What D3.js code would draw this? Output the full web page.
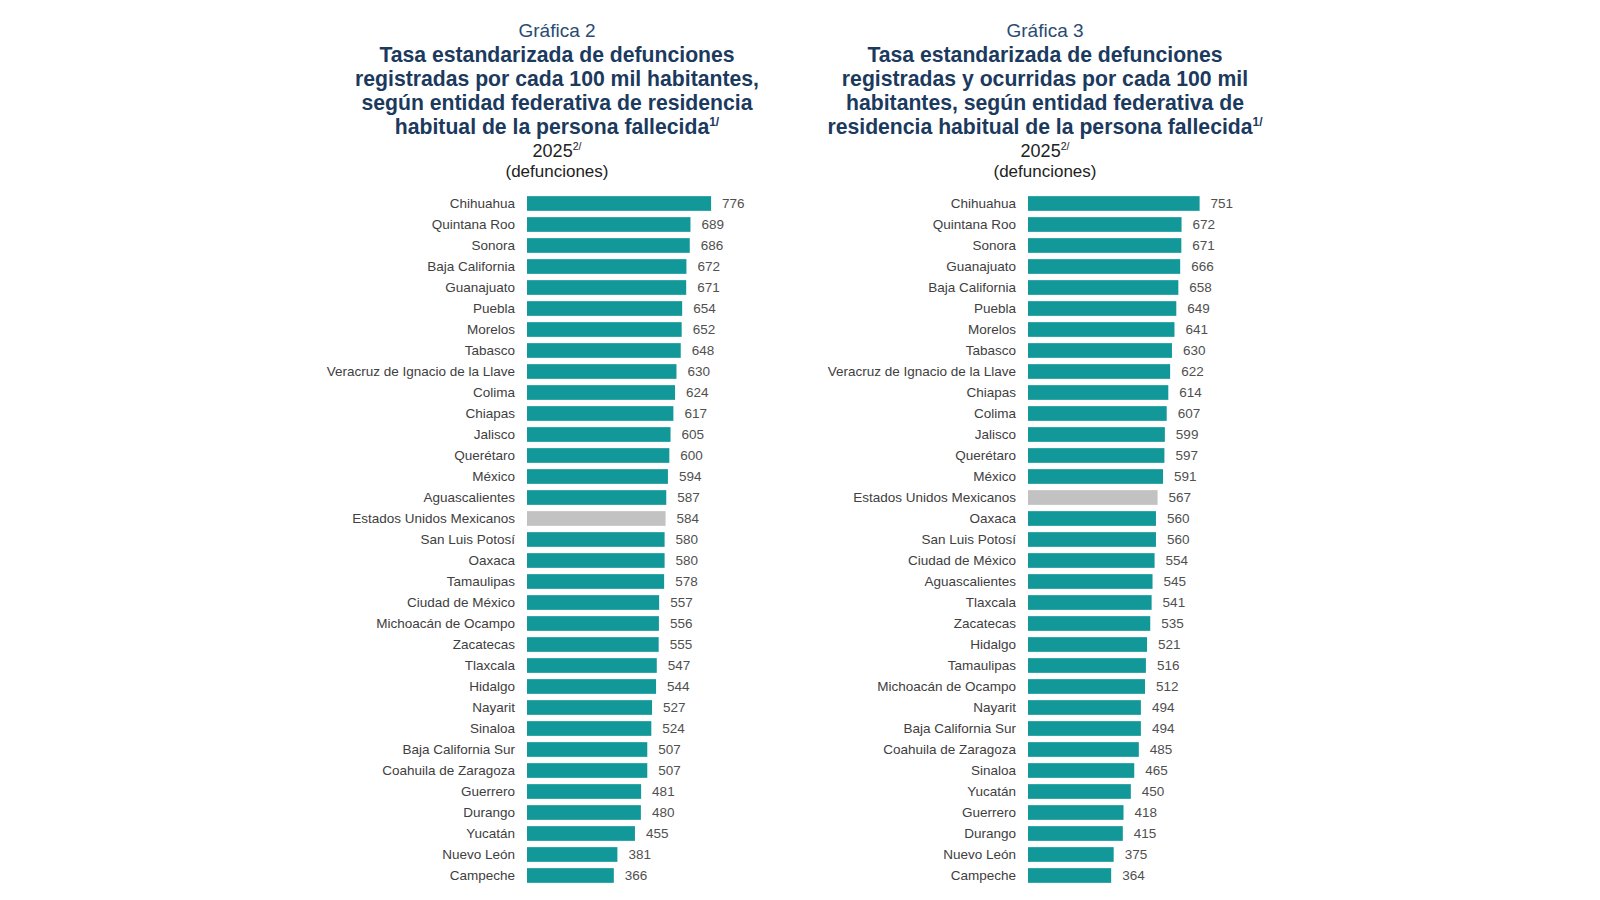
<!DOCTYPE html>
<html><head><meta charset="utf-8">
<script src="https://cdn.jsdelivr.net/npm/d3@7"></script>
<style>body{margin:0;background:#fff}svg{display:block}</style>
</head><body>
<svg id="c" width="1600" height="900"></svg>
<script>
const cats2 = ["Chihuahua","Quintana Roo","Sonora","Baja California","Guanajuato","Puebla","Morelos","Tabasco","Veracruz de Ignacio de la Llave","Colima","Chiapas","Jalisco","Querétaro","México","Aguascalientes","Estados Unidos Mexicanos","San Luis Potosí","Oaxaca","Tamaulipas","Ciudad de México","Michoacán de Ocampo","Zacatecas","Tlaxcala","Hidalgo","Nayarit","Sinaloa","Baja California Sur","Coahuila de Zaragoza","Guerrero","Durango","Yucatán","Nuevo León","Campeche"];
const vals2 = [776,689,686,672,671,654,652,648,630,624,617,605,600,594,587,584,580,580,578,557,556,555,547,544,527,524,507,507,481,480,455,381,366];
const cats3 = ["Chihuahua","Quintana Roo","Sonora","Guanajuato","Baja California","Puebla","Morelos","Tabasco","Veracruz de Ignacio de la Llave","Chiapas","Colima","Jalisco","Querétaro","México","Estados Unidos Mexicanos","Oaxaca","San Luis Potosí","Ciudad de México","Aguascalientes","Tlaxcala","Zacatecas","Hidalgo","Tamaulipas","Michoacán de Ocampo","Nayarit","Baja California Sur","Coahuila de Zaragoza","Sinaloa","Yucatán","Guerrero","Durango","Nuevo León","Campeche"];
const vals3 = [751,672,671,666,658,649,641,630,622,614,607,599,597,591,567,560,560,554,545,541,535,521,516,512,494,494,485,465,450,418,415,375,364];
const title2 = ["Tasa estandarizada de defunciones","registradas por cada 100 mil habitantes,","según entidad federativa de residencia","habitual de la persona fallecida"];
const title3 = ["Tasa estandarizada de defunciones","registradas y ocurridas por cada 100 mil","habitantes, según entidad federativa de","residencia habitual de la persona fallecida"];
const national = "Estados Unidos Mexicanos";

const svg = d3.select("#c");
const FONT = "'Liberation Sans', Arial, sans-serif";
const TEAL = "#13989a", GREY = "#c2c2c2";

function panel(cfg){
  const g = svg.append("g");
  g.append("text").attr("x",cfg.cx).attr("y",37).attr("text-anchor","middle")
    .attr("font-family",FONT).attr("font-size",19).attr("fill","#2a4b72").text(cfg.label);
  cfg.title.forEach((t,i)=>{
    const tx = g.append("text").attr("x",cfg.cx).attr("y",61.5+i*24.2).attr("text-anchor","middle")
      .attr("font-family",FONT).attr("font-size",21.2).attr("font-weight","bold").attr("fill","#1b3a5e");
    tx.append("tspan").text(t);
    if(i===cfg.title.length-1) tx.append("tspan").attr("font-size",12).attr("dy",-8).text("1/");
  });
  const yr = g.append("text").attr("x",cfg.cx).attr("y",157).attr("text-anchor","middle")
    .attr("font-family",FONT).attr("font-size",18).attr("fill","#222");
  yr.append("tspan").text("2025");
  yr.append("tspan").attr("font-size",10.5).attr("dy",-7).text("2/");
  g.append("text").attr("x",cfg.cx).attr("y",177).attr("text-anchor","middle")
    .attr("font-family",FONT).attr("font-size",17).attr("fill","#222").text("(defunciones)");

  const y = d3.scaleBand().domain(cfg.cats).range([193,886]).paddingInner(0.3).paddingOuter(0.15);
  const x = d3.scaleLinear().domain([0,800]).range([cfg.x0, cfg.x0 + cfg.w]);
  const data = cfg.cats.map((c,i)=>({c, v: cfg.vals[i]}));

  g.selectAll("rect.bar").data(data).join("rect").attr("class","bar")
    .attr("x",x(0)).attr("y",d=>y(d.c)).attr("height",y.bandwidth())
    .attr("width",d=>x(d.v)-x(0)).attr("fill",d=>d.c===national?GREY:TEAL);

  const ax = g.append("g").attr("transform",`translate(${x(0)-12},0)`)
    .call(d3.axisLeft(y).tickSize(0).tickPadding(0));
  ax.select(".domain").remove();
  ax.selectAll("text").attr("font-family",FONT).attr("font-size",13.5).attr("fill","#404040");

  g.selectAll("text.val").data(data).join("text").attr("class","val")
    .attr("x",d=>x(d.v)+11).attr("y",d=>y(d.c)+y.bandwidth()/2).attr("dy","0.35em")
    .attr("font-family",FONT).attr("font-size",13.5).attr("fill","#505050").text(d=>d.v);
}

panel({cx:557, label:"Gráfica 2", title:title2, cats:cats2, vals:vals2, x0:527, w:189.8});
panel({cx:1045, label:"Gráfica 3", title:title3, cats:cats3, vals:vals3, x0:1028, w:182.8});
</script>
</body></html>
